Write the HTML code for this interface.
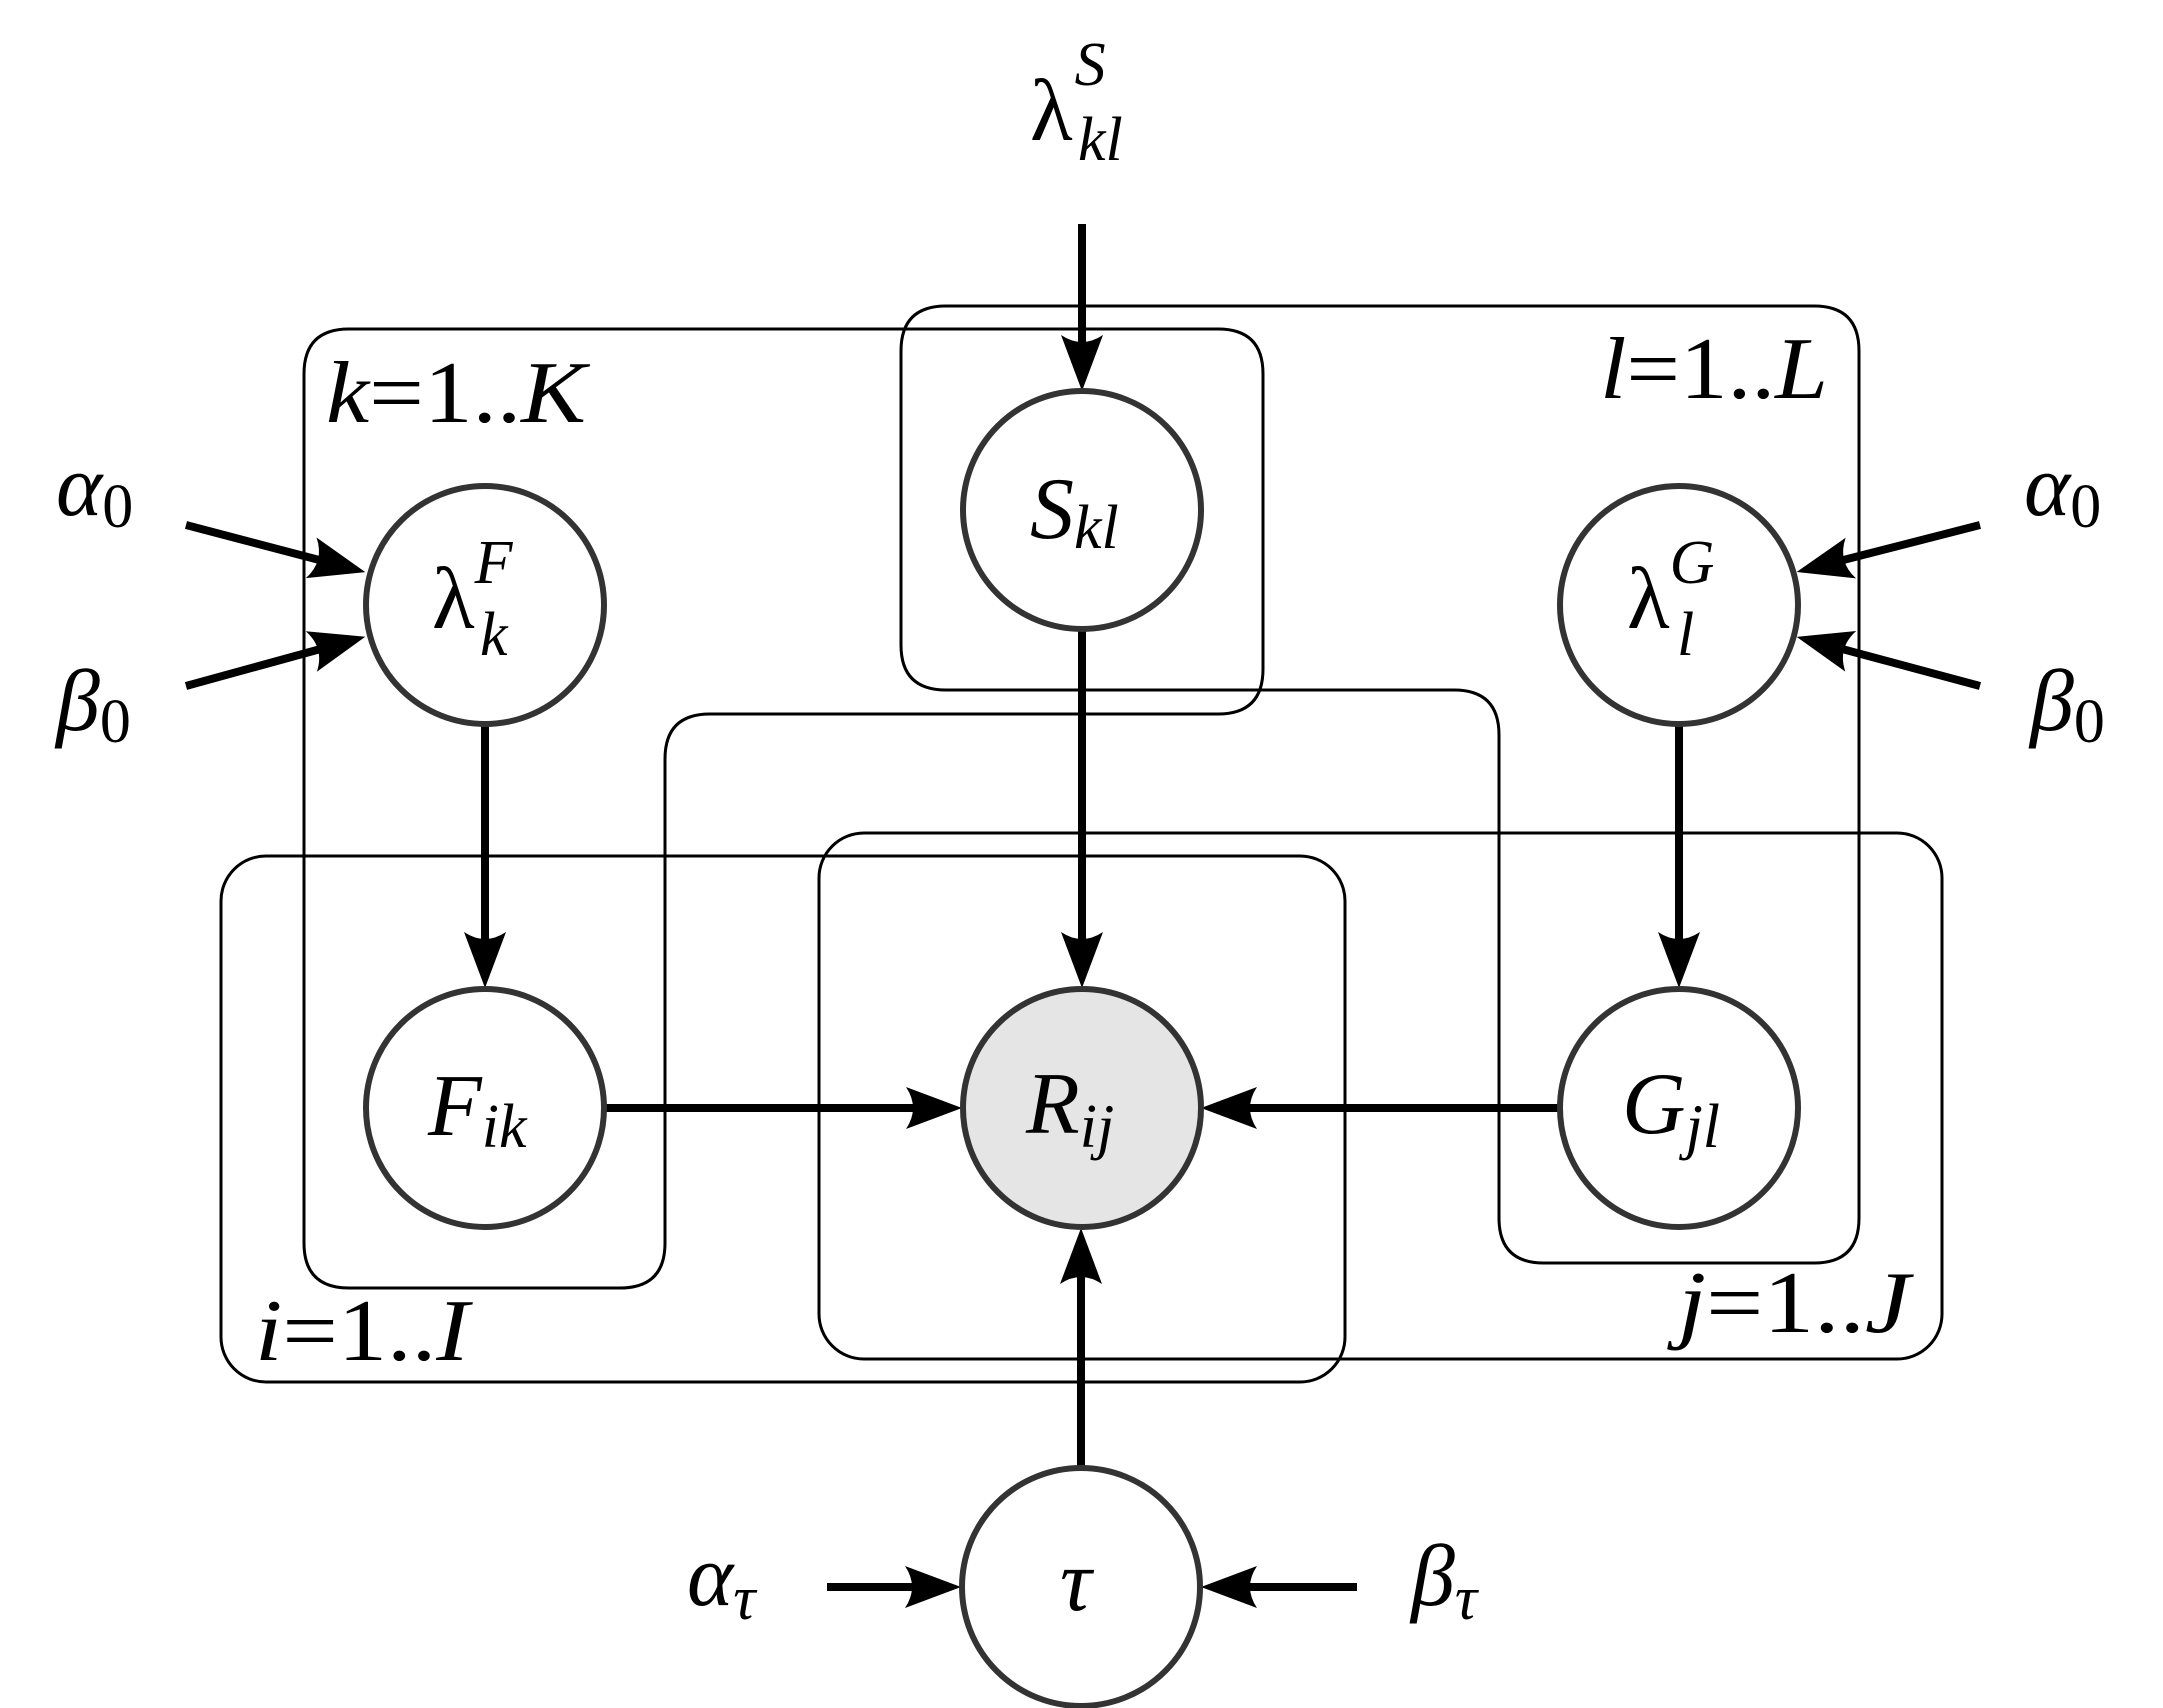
<!DOCTYPE html>
<html><head><meta charset="utf-8"><style>
html,body{margin:0;padding:0;background:#fff;}
svg{display:block;}
text{font-family:"Liberation Serif","DejaVu Serif",serif;font-style:italic;fill:#000;}
.up{font-style:normal;}
</style></head><body>
<svg width="2163" height="1708" viewBox="0 0 2163 1708" xmlns="http://www.w3.org/2000/svg">
<defs>
<marker id="ah" markerUnits="userSpaceOnUse" viewBox="-40 -24 64 48" refX="0" refY="0" markerWidth="64" markerHeight="48" orient="auto">
<path d="M20,0 L-36,-21 Q-22,0 -36,21 Z" fill="#000"/>
</marker>
</defs>
<g fill="none" stroke="#000" stroke-width="3">
<path d="M349,329 H1218 Q1263,329 1263,374 V669 Q1263,714 1218,714 H710 Q665,714 665,759 V1243 Q665,1288 620,1288 H349 Q304,1288 304,1243 V374 Q304,329 349,329 Z"/>
<path d="M946,306 H1814 Q1859,306 1859,351 V1218 Q1859,1263 1814,1263 H1544 Q1499,1263 1499,1218 V735 Q1499,690 1454,690 H946 Q901,690 901,645 V351 Q901,306 946,306 Z"/>
<rect x="221" y="856" width="1124" height="526" rx="45" ry="45"/>
<rect x="819" y="833" width="1123" height="526" rx="45" ry="45"/>
</g>
<g stroke="#000" stroke-width="8" fill="none" marker-end="url(#ah)">
<line x1="1082" y1="224" x2="1082" y2="371"/>
<line x1="1082" y1="629" x2="1082" y2="968"/>
<line x1="485" y1="725" x2="485" y2="968"/>
<line x1="1679" y1="725" x2="1679" y2="968"/>
<line x1="605" y1="1108" x2="942" y2="1108"/>
<line x1="1561" y1="1108" x2="1221" y2="1108"/>
<line x1="1081" y1="1467" x2="1081" y2="1248"/>
<line x1="827" y1="1587" x2="941" y2="1587"/>
<line x1="1357" y1="1587" x2="1221" y2="1587"/>
<line x1="186" y1="525" x2="346" y2="567"/>
<line x1="186" y1="686" x2="346" y2="642"/>
<line x1="1980" y1="525" x2="1816" y2="567"/>
<line x1="1980" y1="686" x2="1816" y2="642"/>
</g>
<g stroke="#333" stroke-width="6" fill="#fff">
<circle cx="485" cy="605" r="119"/>
<circle cx="1082" cy="510" r="119"/>
<circle cx="1679" cy="605" r="119"/>
<circle cx="485" cy="1108" r="119"/>
<circle cx="1082" cy="1108" r="119" fill="#e5e5e5"/>
<circle cx="1679" cy="1108" r="119"/>
<circle cx="1081" cy="1587" r="119"/>
</g>
<g font-size="88">
<text x="1030" y="140" class="up">λ<tspan font-size="62" dy="-55" dx="2" style="font-style:italic">S</tspan><tspan font-size="62" x="1078" dy="75" style="font-style:italic">kl</tspan></text>
<text x="432" y="628" class="up">λ<tspan font-size="62" dy="-45" style="font-style:italic">F</tspan><tspan font-size="62" x="480" dy="72" style="font-style:italic">k</tspan></text>
<text x="1627" y="628" class="up">λ<tspan font-size="62" dy="-45" style="font-style:italic">G</tspan><tspan font-size="62" x="1677" dy="72" style="font-style:italic">l</tspan></text>
<text x="1030" y="538">S<tspan font-size="62" dy="10">kl</tspan></text>
<text x="428" y="1135">F<tspan font-size="62" dy="12">ik</tspan></text>
<text x="1026" y="1133">R<tspan font-size="62" dy="14">ij</tspan></text>
<text x="1622" y="1133">G<tspan font-size="62" dy="14">jl</tspan></text>
<text x="1060" y="1610">τ</text>
<text x="56" y="515">α<tspan font-size="62" dy="12" style="font-style:normal">0</tspan></text>
<text x="56" y="730">β<tspan font-size="62" dy="12" style="font-style:normal">0</tspan></text>
<text x="2024" y="515">α<tspan font-size="62" dy="12" style="font-style:normal">0</tspan></text>
<text x="2030" y="730">β<tspan font-size="62" dy="12" style="font-style:normal">0</tspan></text>
<text x="687" y="1605">α<tspan font-size="62" dy="14">τ</tspan></text>
<text x="1411" y="1605">β<tspan font-size="62" dy="14">τ</tspan></text>
<text x="326" y="422" textLength="260" lengthAdjust="spacingAndGlyphs">k<tspan style="font-style:normal">=1..</tspan>K</text>
<text x="1600" y="398" textLength="228" lengthAdjust="spacingAndGlyphs">l<tspan style="font-style:normal">=1..</tspan>L</text>
<text x="255" y="1360" textLength="214" lengthAdjust="spacingAndGlyphs">i<tspan style="font-style:normal">=1..</tspan>I</text>
<text x="1678" y="1332" textLength="232" lengthAdjust="spacingAndGlyphs">j<tspan style="font-style:normal">=1..</tspan>J</text>
</g>
</svg>
</body></html>
